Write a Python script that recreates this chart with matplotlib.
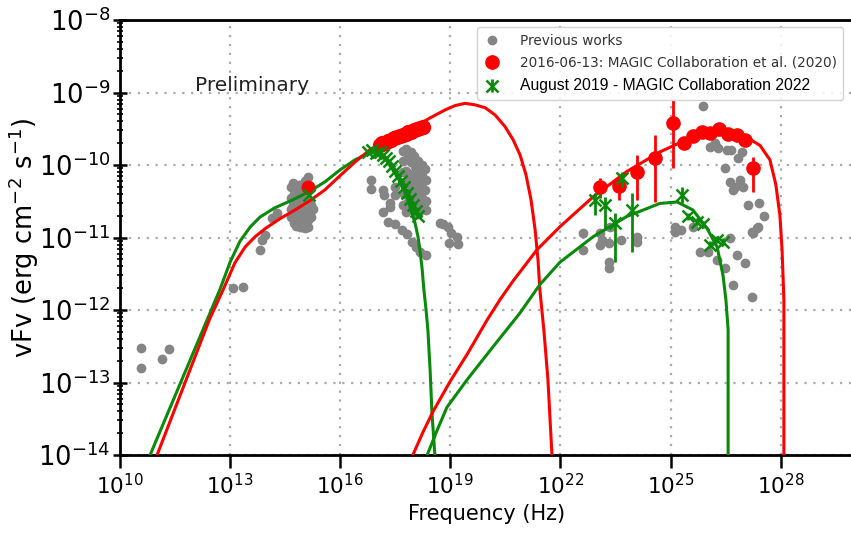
import numpy as np
import matplotlib
matplotlib.use("Agg")
import matplotlib.pyplot as plt
from matplotlib.ticker import FixedLocator, LogLocator, NullLocator, LogFormatterSciNotation

# ---------------- data (log10 units) ----------------
# Broad-band model curves: log10(nu / Hz), log10(nuFnu / erg cm^-2 s^-1)
red_sync_lx = [11.01, 12.43, 12.81, 13.13, 13.41, 13.68, 13.95, 14.36, 14.77, 15.18, 15.59,
               15.99, 16.40, 16.81, 17.22, 17.63, 18.04, 18.45, 18.86, 19.13, 19.40, 19.67,
               19.95, 20.22, 20.49, 20.71, 20.90, 21.06, 21.20, 21.31, 21.39, 21.44, 21.55,
               21.66, 21.77]
red_sync_ly = [-14.0, -12.14, -11.72, -11.35, -11.13, -10.99, -10.88, -10.74, -10.62, -10.49, -10.34,
               -10.15, -9.96, -9.79, -9.67, -9.57, -9.47, -9.35, -9.24, -9.18, -9.15, -9.17,
               -9.21, -9.31, -9.47, -9.65, -9.86, -10.13, -10.48, -10.89, -11.31, -11.72, -12.28,
               -12.96, -14.0]

green_sync_lx = [10.82, 12.37, 12.72, 13.00, 13.27, 13.54, 13.81, 14.22, 14.71, 15.18, 15.59,
                 15.99, 16.40, 16.68, 16.89, 17.08, 17.27, 17.44, 17.63, 17.82, 17.93, 18.04,
                 18.12, 18.17, 18.23, 18.28, 18.34, 18.39, 18.45, 18.50, 18.58]
green_sync_ly = [-14.0, -12.14, -11.72, -11.34, -11.05, -10.86, -10.72, -10.59, -10.48, -10.36, -10.23,
                 -10.07, -9.93, -9.86, -9.83, -9.86, -9.94, -10.07, -10.23, -10.44, -10.62, -10.80,
                 -10.99, -11.17, -11.42, -11.72, -12.00, -12.28, -12.83, -13.42, -14.0]

red_ic_lx = [17.98, 18.26, 18.53, 18.99, 19.46, 20.00, 20.35, 20.71, 21.36, 21.99, 22.89,
             23.81, 24.71, 25.61, 26.35, 27.08, 27.44, 27.71, 27.87, 27.98, 28.04, 28.09, 28.09]
red_ic_ly = [-14.0, -13.68, -13.40, -12.99, -12.61, -12.14, -11.86, -11.60, -11.17, -10.85, -10.44,
             -10.09, -9.82, -9.61, -9.54, -9.62, -9.73, -9.93, -10.27, -10.69, -11.17, -11.86, -14.0]

green_ic_lx = [18.37, 18.64, 18.91, 19.46, 20.16, 20.90, 21.44, 21.99, 22.89, 23.81, 24.71,
               25.18, 25.61, 25.99, 26.27, 26.43, 26.51, 26.57, 26.57]
green_ic_ly = [-14.0, -13.66, -13.34, -12.96, -12.51, -12.04, -11.65, -11.34, -10.99, -10.71, -10.53,
               -10.51, -10.62, -10.87, -11.13, -11.52, -11.86, -12.27, -14.0]

# Archival measurements ("Previous works")
prev_lx = [10.57, 10.57, 11.14, 11.34, 13.08, 13.35, 13.81, 13.87, 13.95, 14.14, 14.28,
           14.65, 14.65, 14.65, 14.66, 14.72, 14.73, 14.72, 14.74, 14.73,
           14.80, 14.81, 14.80, 14.82, 14.80, 14.88, 14.89, 14.88, 14.90, 14.88, 14.90,
           14.96, 14.97, 14.96, 14.98, 14.97, 15.04, 15.05, 15.04, 15.06, 15.05, 15.04,
           15.12, 15.13, 15.12, 15.14, 15.12, 15.13, 15.20, 15.21, 15.20, 15.27,
           17.70, 17.70, 17.72, 17.70, 17.73, 17.71, 17.80, 17.82, 17.80, 17.83, 17.81, 17.82, 17.80,
           17.92, 17.93, 17.92, 17.94, 17.92, 17.93, 18.02, 18.03, 18.02, 18.04, 18.02, 18.03,
           18.12, 18.13, 18.12, 18.14, 18.12, 18.13, 18.22, 18.23, 18.22, 18.24, 18.22,
           18.32, 18.33, 18.32, 18.34, 18.33,
           16.84, 16.84, 17.17, 17.19, 17.36, 17.36, 17.17, 17.49, 17.49, 17.30, 17.49, 17.68,
           17.82, 17.96, 18.07, 18.17, 18.34, 18.72, 18.80, 18.94, 19.02, 18.96, 19.18, 19.21,
           25.89, 26.08, 26.29, 26.21, 26.54, 26.65, 26.48, 26.62, 26.70, 26.89, 26.98, 26.84,
           26.95, 27.11, 27.41, 27.55, 27.38, 27.25, 26.76,
           22.62, 22.62, 23.08, 23.08, 23.13, 23.35, 23.32, 23.32, 23.32, 23.65, 24.09, 24.09,
           25.12, 25.12, 25.29, 25.61, 25.80, 26.02, 26.27, 26.48, 26.62, 26.70, 26.81, 27.03,
           27.22, 27.22, 27.36]
prev_ly = [-12.52, -12.80, -12.68, -12.54, -11.70, -11.68, -11.17, -11.03, -10.96, -10.73, -10.66,
           -10.30, -10.45, -10.60, -10.72, -10.25, -10.40, -10.55, -10.68, -10.80,
           -10.28, -10.42, -10.58, -10.70, -10.84, -10.27, -10.38, -10.52, -10.66, -10.78, -10.86,
           -10.30, -10.45, -10.60, -10.74, -10.85, -10.22, -10.36, -10.50, -10.64, -10.78, -10.87,
           -10.17, -10.30, -10.48, -10.62, -10.76, -10.86, -10.32, -10.55, -10.72, -10.60,
           -9.80, -9.95, -10.10, -10.25, -10.40, -10.55, -9.78, -9.92, -10.08, -10.22, -10.38, -10.52, -10.65,
           -9.82, -9.96, -10.12, -10.27, -10.42, -10.58, -9.88, -10.02, -10.18, -10.32, -10.48, -10.62,
           -9.95, -10.10, -10.25, -10.40, -10.55, -10.68, -10.00, -10.15, -10.30, -10.45, -10.60,
           -10.05, -10.20, -10.35, -10.50, -10.62,
           -10.20, -10.33, -10.34, -10.42, -10.52, -10.58, -10.65, -10.30, -10.41, -10.78, -10.82, -10.89,
           -10.95, -11.06, -11.13, -11.20, -11.24, -10.80, -10.82, -10.85, -10.94, -11.07, -10.99, -11.09,
           -9.18, -9.75, -9.76, -9.69, -9.79, -9.79, -10.04, -10.24, -10.34, -10.20, -10.31, -9.90,
           -9.82, -10.55, -10.52, -10.70, -10.85, -10.94, -10.31,
           -10.94, -11.17, -10.94, -11.10, -11.03, -10.85, -11.07, -11.34, -11.42, -11.03, -10.99, -11.06,
           -10.85, -10.92, -10.89, -10.85, -11.20, -11.20, -11.31, -11.42, -11.00, -11.65, -11.24, -11.35,
           -11.82, -10.92, -10.87]

# 2016-06-13 campaign (MAGIC Collaboration et al. 2020)
red_opt_lx, red_opt_ly = [15.12], [-10.31]
red_xray_lx = [17.08, 17.15, 17.22, 17.30, 17.38, 17.46, 17.54, 17.62, 17.70, 17.78, 17.86,
               17.94, 18.02, 18.10, 18.18, 18.26]
red_xray_ly = [-9.72, -9.70, -9.69, -9.67, -9.65, -9.63, -9.62, -9.60, -9.58, -9.57, -9.55,
               -9.54, -9.52, -9.51, -9.49, -9.48]
red_gam_lx = [23.08, 23.60, 24.09, 24.58, 25.07, 25.37, 25.61, 25.86, 26.08, 26.32, 26.57,
              26.81, 27.03, 27.25]
red_gam_ly = [-10.31, -10.29, -10.09, -9.90, -9.42, -9.69, -9.60, -9.54, -9.56, -9.51, -9.57,
              -9.58, -9.65, -10.04]
red_gam_lo = [-10.45, -10.48, -10.48, -10.51, -10.04, -9.74, -9.65, -9.59, -9.61, -9.56, -9.62,
              -9.63, -9.70, -10.37]
red_gam_hi = [-10.18, -10.16, -9.86, -9.58, -9.10, -9.64, -9.55, -9.49, -9.51, -9.46, -9.52,
              -9.53, -9.60, -9.89]

# August 2019 campaign (MAGIC Collaboration 2022)
green_opt_lx, green_opt_ly = [15.14], [-10.41]
green_xray_lx = [16.76, 16.87, 16.98, 17.08, 17.17, 17.25, 17.33, 17.41, 17.49, 17.57, 17.66,
                 17.74, 17.82, 17.90, 17.98, 18.07, 18.12]
green_xray_ly = [-9.82, -9.79, -9.83, -9.82, -9.86, -9.90, -9.95, -10.01, -10.08, -10.15, -10.22,
                 -10.30, -10.38, -10.47, -10.55, -10.63, -10.71]
green_gam_lx = [22.94, 23.22, 23.49, 23.68, 23.95, 25.31, 25.48, 25.72, 25.89, 26.08, 26.27, 26.43]
green_gam_ly = [-10.48, -10.55, -10.80, -10.18, -10.62, -10.41, -10.71, -10.78, -10.82, -11.10,
                -11.03, -11.06]
green_gam_lo = [-10.69, -10.90, -11.34, -10.30, -11.20, -10.52, -10.76, -10.83, -10.87, -11.15,
                -11.08, -11.11]
green_gam_hi = [-10.38, -10.44, -10.66, -10.10, -10.38, -10.30, -10.66, -10.73, -10.77, -11.05,
                -10.98, -11.01]

x_tick_exp = [10, 13, 16, 19, 22, 25, 28]
y_tick_exp = [-14, -13, -12, -11, -10, -9, -8]

label_prev = "Previous works"
label_2016 = "2016-06-13: MAGIC Collaboration et al. (2020)"
label_2019 = "August 2019 - MAGIC Collaboration 2022"


def p(a):
    return 10.0 ** np.asarray(a, dtype=float)


def asym(v, lo, hi):
    v, lo, hi = p(v), p(lo), p(hi)
    return [v - lo, hi - v]


# ---------------- figure ----------------
plt.rcParams["font.family"] = ["DejaVu Sans"]
RED = "#ff0000"
GREEN = "#0a8a0a"
GRAY = "#858585"

fig = plt.figure(figsize=(8.51, 5.33), dpi=100)
ax = fig.add_axes([120 / 851, 78 / 533, 734 / 851, 435 / 533])
ax.set_xscale("log")
ax.set_yscale("log")
ax.set_xlim(1e10, 1e30)
ax.set_ylim(1e-14, 1e-8)

# archival points
h_prev, = ax.plot(p(prev_lx), p(prev_ly), "o", color=GRAY, ms=6, mec=GRAY, ls="none",
                  zorder=2, label=label_prev)

# model curves
ax.plot(p(green_sync_lx), p(green_sync_ly), color=GREEN, lw=2.2, zorder=3)
ax.plot(p(red_sync_lx), p(red_sync_ly), color=RED, lw=2.2, zorder=3)
ax.plot(p(red_ic_lx), p(red_ic_ly), color=RED, lw=2.2, zorder=3)
ax.plot(p(green_ic_lx), p(green_ic_ly), color=GREEN, lw=2.2, zorder=3)

# 2016 data
ax.plot(p(red_opt_lx), p(red_opt_ly), "o", color=RED, ms=9, zorder=4)
ax.plot(p(red_xray_lx), p(red_xray_ly), "o", color=RED, ms=10, zorder=4)
h_red = ax.errorbar(p(red_gam_lx), p(red_gam_ly), yerr=asym(red_gam_ly, red_gam_lo, red_gam_hi),
                    fmt="o", color=RED, ms=9.5, elinewidth=2, capsize=0, zorder=4, label=label_2016)

# 2019 data
ax.plot(p(green_opt_lx), p(green_opt_ly), "x", color=GREEN, ms=8, mew=1.8, zorder=5)
ax.plot(p(green_xray_lx), p(green_xray_ly), "x", color=GREEN, ms=8, mew=1.8, zorder=5)
h_green = ax.errorbar(p(green_gam_lx), p(green_gam_ly),
                      yerr=asym(green_gam_ly, green_gam_lo, green_gam_hi),
                      fmt="x", color=GREEN, ms=9, mew=1.8, elinewidth=2, capsize=0, zorder=5,
                      label=label_2019)

# axes styling
ax.xaxis.set_major_locator(FixedLocator(p(x_tick_exp)))
ax.xaxis.set_major_formatter(LogFormatterSciNotation())
ax.xaxis.set_minor_locator(NullLocator())
ax.yaxis.set_major_locator(FixedLocator(p(y_tick_exp)))
ax.yaxis.set_major_formatter(LogFormatterSciNotation())
ax.yaxis.set_minor_locator(LogLocator(base=10, subs=np.arange(2, 10), numticks=20))

for s in ax.spines.values():
    s.set_linewidth(2.0)
ax.tick_params(axis="x", which="major", direction="out", length=9, width=1.8,
               labelsize=15.5, pad=4)
ax.tick_params(axis="y", which="major", direction="inout", length=10, width=1.8,
               labelsize=18.5, pad=2)
ax.tick_params(axis="y", which="minor", direction="inout", length=5, width=1.2)

ax.grid(True, which="major", color="#aaaaaa", linestyle=(0, (1, 3)), linewidth=1.6)
ax.set_axisbelow(True)

ax.set_xlabel("Frequency (Hz)", fontsize=15, labelpad=4)
ax.set_ylabel(r"vFv (erg cm$^{-2}$ s$^{-1}$)", fontsize=18.5, labelpad=-2)

ax.text(0.102, 0.850, "Preliminary", transform=ax.transAxes, fontsize=14.5, color="#222222",
        ha="left", va="center")

leg = ax.legend([h_prev, h_red, h_green], [label_prev, label_2016, label_2019],
                loc="upper left", bbox_to_anchor=(0.487, 0.983), borderaxespad=0,
                fontsize=9.8, handlelength=1.2, handletextpad=1.5, labelspacing=0.62,
                borderpad=0.45, framealpha=0.85, edgecolor="#cccccc")
for t in leg.get_texts()[:2]:
    t.set_color("#333333")
t3 = leg.get_texts()[2]
t3.set_fontfamily("Liberation Sans")
t3.set_fontsize(11.3)
t3.set_color("black")

fig.savefig("out.png", dpi=100)
